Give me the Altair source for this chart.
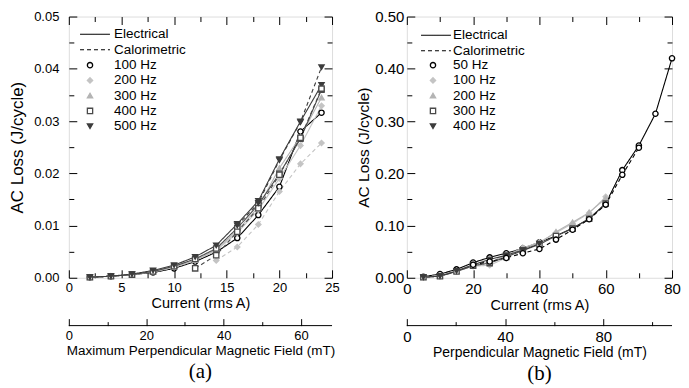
import altair as alt
import pandas as pd

FONT = "Liberation Sans"

# ---------------- panel (a) ----------------
freq_a = ["100 Hz", "200 Hz", "300 Hz", "400 Hz", "500 Hz"]
stroke_a = ["#000000", "#c4c4c4", "#b4b4b4", "#4a4a4a", "#3c3c3c"]
fill_a = ["#ffffff", "#c4c4c4", "#b4b4b4", "#ffffff", "#3c3c3c"]
shape_a = ["circle", "diamond", "triangle-up", "square", "triangle-down"]

cur_a = [2, 4, 6, 8, 10, 12, 14, 16, 18, 20, 22, 24]
el_100_a = [0.0001, 0.0003, 0.0006, 0.0010, 0.0018, 0.0031, 0.0049, 0.0076, 0.0120, 0.0174, 0.0280, 0.0316]
el_200_a = [0.0001, 0.0003, 0.0006, 0.0011, 0.0020, 0.0033, 0.0052, 0.0086, 0.0130, 0.0190, 0.0253, 0.0329]
el_300_a = [0.0001, 0.0003, 0.0006, 0.0012, 0.0021, 0.0034, 0.0054, 0.0090, 0.0135, 0.0210, 0.0270, 0.0345]
el_400_a = [0.0001, 0.0003, 0.0006, 0.0012, 0.0022, 0.0036, 0.0056, 0.0095, 0.0140, 0.0199, 0.0266, 0.0360]
el_500_a = [0.0001, 0.0003, 0.0007, 0.0014, 0.0024, 0.0040, 0.0062, 0.0103, 0.0147, 0.0227, 0.0299, 0.0369]

cal_200_cur_a = [14, 16, 18, 20, 22, 24]
cal_200_a = [0.0033, 0.0059, 0.0102, 0.0165, 0.0218, 0.0258]
cal_400_cur_a = [12, 14, 16, 18, 20, 22, 24]
cal_400_a = [0.0018, 0.0043, 0.0088, 0.0133, 0.0197, 0.0268, 0.0362]
cal_500_cur_a = [16, 18, 20, 22, 24]
cal_500_a = [0.0100, 0.0143, 0.0225, 0.0298, 0.0403]

field_dom_a = [0, 68]
field_ticks_a = [0, 10, 20, 30, 40, 50, 60]

# ---------------- panel (b) ----------------
freq_b = ["50 Hz", "100 Hz", "200 Hz", "300 Hz", "400 Hz"]
stroke_b = ["#000000", "#c4c4c4", "#b4b4b4", "#4a4a4a", "#3c3c3c"]
fill_b = ["#ffffff", "#c4c4c4", "#b4b4b4", "#ffffff", "#3c3c3c"]
shape_b = ["circle", "diamond", "triangle-up", "square", "triangle-down"]

cur_b = [5, 10, 15, 20, 25, 30, 35, 40, 45, 50, 55, 60, 65, 70, 75, 80]
el_50_b = [0.002, 0.007, 0.016, 0.029, 0.039, 0.047, 0.056, 0.068, 0.080, 0.095, 0.113, 0.142, 0.206, 0.253, 0.314, 0.420]
el_100_b = [0.001, 0.004, 0.012, 0.022, 0.024, 0.038, 0.057, 0.068, 0.086, 0.104, 0.124, 0.155]
el_200_b = [0.001, 0.004, 0.013, 0.024, 0.030, 0.042, 0.058, 0.066, 0.088, 0.106, 0.125, 0.152]
el_300_b = [0.001, 0.003, 0.012, 0.023, 0.028, 0.040, 0.052, 0.064, 0.080, 0.094, 0.113, 0.142]
el_400_b = [0.001, 0.003, 0.013, 0.025, 0.035, 0.043, 0.053, 0.065]

cal_50_cur_b = [20, 25, 30, 35, 40, 45, 50, 55, 60, 65, 70]
cal_50_b = [0.025, 0.031, 0.038, 0.047, 0.055, 0.073, 0.092, 0.112, 0.140, 0.197, 0.249]

field_dom_b = [0, 108]
field_ticks_b = [0, 20, 40, 60, 80, 100]


def rows(freq, method, xs, ys):
    return [{"current": x, "loss": y, "freq": freq, "method": method,
             "series": freq + " " + method} for x, y in zip(xs, ys)]


df_a = pd.DataFrame(
    rows("100 Hz", "Electrical", cur_a, el_100_a)
    + rows("200 Hz", "Electrical", cur_a, el_200_a)
    + rows("300 Hz", "Electrical", cur_a, el_300_a)
    + rows("400 Hz", "Electrical", cur_a, el_400_a)
    + rows("500 Hz", "Electrical", cur_a, el_500_a)
    + rows("200 Hz", "Calorimetric", cal_200_cur_a, cal_200_a)
    + rows("400 Hz", "Calorimetric", cal_400_cur_a, cal_400_a)
    + rows("500 Hz", "Calorimetric", cal_500_cur_a, cal_500_a)
)

df_b = pd.DataFrame(
    rows("50 Hz", "Electrical", cur_b, el_50_b)
    + rows("100 Hz", "Electrical", cur_b, el_100_b)
    + rows("200 Hz", "Electrical", cur_b, el_200_b)
    + rows("300 Hz", "Electrical", cur_b, el_300_b)
    + rows("400 Hz", "Electrical", cur_b, el_400_b)
    + rows("50 Hz", "Calorimetric", cal_50_cur_b, cal_50_b)
)


def axis(orient, values, minor_test, label_expr=None, offset=-8, size=8,
         minor_dash=(0, 3, 5, 60), title=None, fs=13, lp=4, tp=2, tfs=15):
    kw = dict(orient=orient, values=values, offset=offset, tickSize=size,
              domain=False, grid=False, ticks=True, tickColor="black",
              tickWidth=1,
              tickDash={"condition": {"test": minor_test, "value": list(minor_dash)},
                        "value": [40, 0]},
              labelOverlap=False, labelFlush=False)
    if label_expr:
        kw.update(labelExpr=label_expr, labelFont=FONT, labelFontSize=fs,
                  labelColor="black", labelPadding=lp)
    else:
        kw.update(labels=False)
    if title:
        kw.update(title=title, titleFont=FONT, titleFontSize=tfs,
                  titleFontWeight="normal", titleColor="black", titlePadding=tp)
    else:
        kw.update(title=None)
    return alt.Axis(**kw)


def panel(df, freqs, strokes, fills, shapes, xdom, xvals, x_minor, x_lab,
          ydom, yvals, y_minor, y_lab, fdom, fvals, f_minor, f_lab,
          ytitle, ftitle, tag, fs, ylp, ytp, yfs, ffs, dash_xy, pt_xy, W, H):
    xs = alt.Scale(domain=xdom, nice=False, zero=False)
    ys = alt.Scale(domain=ydom, nice=False, zero=False)
    x_axis = axis("bottom", xvals, x_minor, x_lab, title="Current (rms A)", fs=fs,
                  lp=4, tp=2, tfs=14.5)
    y_axis = axis("left", yvals, y_minor, y_lab, title=ytitle, fs=fs, lp=ylp, tp=ytp,
                  tfs=yfs)

    leg_common = dict(orient="none", title=None, labelFont=FONT, labelFontSize=13.5,
                      labelColor="black", padding=0, direction="vertical")
    dash_leg = alt.Legend(legendX=dash_xy[0], legendY=dash_xy[1],
                          symbolType="M-3,0H3", symbolSize=100,
                          symbolStrokeColor="black", symbolStrokeWidth=1.1,
                          labelOffset=dash_xy[2], rowPadding=0.5, **leg_common)
    pt_leg = alt.Legend(legendX=pt_xy[0], legendY=pt_xy[1], symbolSize=28,
                        symbolStrokeWidth=1.3, labelOffset=pt_xy[2], rowPadding=0.3,
                        **leg_common)

    # line colours: same mapping, listed in reverse so it stays a separate (unlisted) scale
    line_scale = alt.Scale(domain=freqs[::-1], range=strokes[::-1])
    stroke_scale = alt.Scale(domain=freqs, range=strokes)
    fill_scale = alt.Scale(domain=freqs, range=fills)
    shape_scale = alt.Scale(domain=freqs, range=shapes)

    base = alt.Chart(df)
    lines = base.mark_line(strokeWidth=1.1).encode(
        x=alt.X("current:Q", scale=xs, axis=x_axis),
        y=alt.Y("loss:Q", scale=ys, axis=y_axis),
        color=alt.Color("freq:N", scale=line_scale, legend=None),
        strokeDash=alt.StrokeDash("method:N",
                                  scale=alt.Scale(domain=["Electrical", "Calorimetric"],
                                                  range=[[1, 0], [4, 3]]),
                                  legend=dash_leg),
        detail="series:N",
        order="current:Q",
    )
    points = base.mark_point(size=28, strokeWidth=1.3, opacity=1).encode(
        x=alt.X("current:Q", scale=xs, axis=x_axis),
        y=alt.Y("loss:Q", scale=ys, axis=y_axis),
        shape=alt.Shape("freq:N", scale=shape_scale, legend=pt_leg),
        stroke=alt.Stroke("freq:N", scale=stroke_scale, legend=pt_leg),
        fill=alt.Fill("freq:N", scale=fill_scale, legend=pt_leg),
    )

    mirror = alt.Chart(pd.DataFrame({"current": [xdom[0]], "loss": [ydom[0]]})).mark_point(
        opacity=0).encode(
        x=alt.X("current:Q", scale=xs, axis=axis("top", xvals, x_minor)),
        y=alt.Y("loss:Q", scale=ys, axis=axis("right", yvals, y_minor)),
    )

    secondary = alt.Chart(pd.DataFrame({"f0": [fdom[0]], "f1": [fdom[1]]})).mark_rule(
        color="black", strokeWidth=1).encode(
        x=alt.X("f0:Q", scale=alt.Scale(domain=fdom, nice=False, zero=False),
                axis=axis("bottom", fvals, f_minor, f_lab, offset=41, size=7,
                          minor_dash=(0, 3, 4, 60), title=ftitle, fs=fs, lp=4, tp=1,
                          tfs=ffs)),
        x2="f1:Q",
        y=alt.value(H + 48),
    )

    return alt.layer(alt.layer(lines, points), secondary, mirror).resolve_scale(
        x="independent", y="independent").properties(
        width=W, height=H,
        title=alt.TitleParams(tag, orient="bottom", font="Liberation Serif", fontSize=21,
                              fontWeight="normal", color="black", offset=4,
                              anchor="middle", frame="group"))


panel_a = panel(
    df_a, freq_a, stroke_a, fill_a, shape_a,
    [0, 25], [0, 2.5, 5, 7.5, 10, 12.5, 15, 17.5, 20, 22.5, 25],
    "datum.value % 5 != 0", "datum.value % 5 == 0 ? format(datum.value, 'd') : ''",
    [0, 0.05], [0, 0.005, 0.01, 0.015, 0.02, 0.025, 0.03, 0.035, 0.04, 0.045, 0.05],
    "round(datum.value * 1000) % 10 != 0",
    "round(datum.value * 1000) % 10 == 0 ? format(datum.value, '.2f') : ''",
    field_dom_a, field_ticks_a, "datum.value % 20 != 0",
    "datum.value % 20 == 0 ? format(datum.value, 'd') : ''",
    "AC Loss (J/cycle)", "Maximum Perpendicular Magnetic Field (mT)", "(a)",
    13, 10, 7, 17, 13.5, (19.5, 11, 12.3), (14.5, 42, 17.3), 264, 262)

panel_b = panel(
    df_b, freq_b, stroke_b, fill_b, shape_b,
    [0, 80], [0, 10, 20, 30, 40, 50, 60, 70, 80],
    "datum.value % 20 != 0", "datum.value % 20 == 0 ? format(datum.value, 'd') : ''",
    [0, 0.5], [0, 0.05, 0.1, 0.15, 0.2, 0.25, 0.3, 0.35, 0.4, 0.45, 0.5],
    "round(datum.value * 100) % 10 != 0",
    "round(datum.value * 100) % 10 == 0 ? format(datum.value, '.2f') : ''",
    field_dom_b, field_ticks_b, "datum.value % 40 != 0",
    "datum.value % 40 == 0 ? format(datum.value, 'd') : ''",
    "AC Loss (J/cycle)", "Perpendicular Magnetic Field (mT)", "(b)",
    15, 3, 3, 15.5, 14, (22.5, 12, 10.3), (19.5, 42, 13.3), 266, 262)

chart = alt.hconcat(panel_a, panel_b, spacing=16).resolve_scale(
    color="independent", stroke="independent", fill="independent", shape="independent",
    strokeDash="independent").properties(
    padding={"left": 0, "top": 0, "right": 0, "bottom": 0}
).configure_view(stroke="black", strokeWidth=1).configure(background="white")

chart.save("out.html", embed_options={"renderer": "svg", "actions": False})
